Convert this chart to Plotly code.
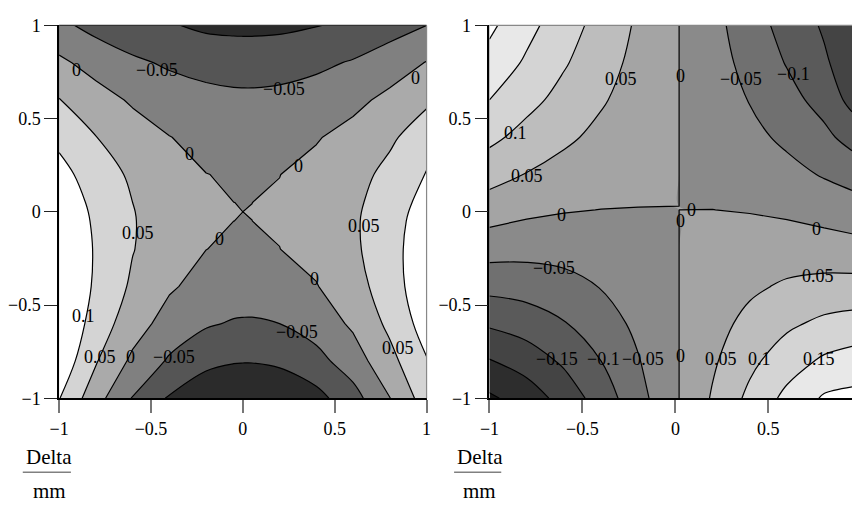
import plotly.graph_objects as go

W, H = 857, 512

# ---------------- data ----------------
left_x = [-1.0, -0.8, -0.6, -0.4, -0.2, -0.05, 0.0, 0.05, 0.2, 0.4, 0.6, 0.8, 1.0]
left_y = [-1.0, -0.8, -0.6, -0.4, -0.2, -0.05, 0.0, 0.05, 0.2, 0.4, 0.6, 0.8, 1.0]
left_z = [
    [0.102, 0.019, -0.053, -0.106, -0.138, -0.150, -0.151, -0.151, -0.144, -0.116, -0.069, -0.001, 0.075],
    [0.136, 0.054, -0.010, -0.056, -0.086, -0.096, -0.097, -0.097, -0.090, -0.066, -0.024, 0.035, 0.097],
    [0.151, 0.078, 0.022, -0.020, -0.045, -0.054, -0.055, -0.0551, -0.050, -0.028, 0.008, 0.061, 0.122],
    [0.155, 0.092, 0.042, 0.006, -0.017, -0.0246, -0.0255, -0.0256, -0.021, -0.002, 0.030, 0.076, 0.135],
    [0.151, 0.095, 0.052, 0.020, 0.0004, -0.0066, -0.0074, -0.0075, -0.0003, 0.013, 0.041, 0.081, 0.133],
    [0.142, 0.092, 0.053, 0.024, 0.0060, 0.00002, -0.0003, -0.00004, 0.0028, 0.018, 0.043, 0.079, 0.126],
    [0.138, 0.090, 0.052, 0.024, 0.0066, 0.0004, 0.0, 0.0003, 0.0034, 0.018, 0.042, 0.077, 0.122],
    [0.133, 0.087, 0.050, 0.023, 0.0061, 0.00004, -0.0003, -0.00005, 0.0029, 0.017, 0.040, 0.074, 0.117],
    [0.117, 0.075, 0.042, 0.017, 0.0005, -0.0029, -0.0035, -0.0036, -0.0004, 0.012, 0.033, 0.063, 0.103],
    [0.088, 0.051, 0.022, 0.001, -0.012, -0.0164, -0.017, -0.0171, -0.014, -0.003, 0.015, 0.042, 0.076],
    [0.052, 0.020, -0.006, -0.024, -0.035, -0.0395, -0.040, -0.0400, -0.037, -0.028, -0.012, 0.012, 0.042],
    [0.010, -0.019, -0.041, -0.057, -0.067, -0.0706, -0.071, -0.0710, -0.069, -0.060, -0.046, -0.025, 0.002],
    [-0.039, -0.065, -0.085, -0.096, -0.109, -0.1117, -0.112, -0.1120, -0.110, -0.102, -0.089, -0.070, -0.050],
]

right_x = [-1.0, -0.8, -0.6, -0.4, -0.2, 0.02, 0.2, 0.4, 0.6, 0.8, 0.95]
right_y = [-1.0, -0.8, -0.6, -0.4, -0.2, 0.01, 0.03, 0.2, 0.4, 0.6, 0.8, 1.0]
right_z = [
    [-0.258, -0.228, -0.181, -0.127, -0.068, 0.0, 0.055, 0.112, 0.163, 0.206, 0.213],
    [-0.203, -0.177, -0.142, -0.100, -0.053, 0.0, 0.043, 0.088, 0.127, 0.158, 0.170],
    [-0.143, -0.127, -0.103, -0.073, -0.039, 0.0, 0.032, 0.064, 0.091, 0.111, 0.119],
    [-0.085, -0.079, -0.067, -0.048, -0.026, 0.0, 0.021, 0.041, 0.057, 0.065, 0.067],
    [-0.030, -0.034, -0.032, -0.024, -0.013, 0.0, 0.010, 0.019, 0.024, 0.023, 0.018],
    [0.0239, 0.0104, 0.00275, -0.0005, -0.00088, 0.0, 0.00016, -0.0019, -0.0079, -0.0193, -0.028],
    [0.0288, 0.0145, 0.00589, 0.00166, 0.00026, 0.0, -0.00077, -0.00384, -0.0108, -0.0231, -0.032],
    [0.069, 0.048, 0.032, 0.019, 0.010, 0.0, -0.008, -0.020, -0.035, -0.054, -0.068],
    [0.112, 0.083, 0.059, 0.038, 0.020, 0.0, -0.017, -0.037, -0.060, -0.088, -0.118],
    [0.150, 0.115, 0.084, 0.055, 0.029, 0.0, -0.024, -0.052, -0.083, -0.118, -0.165],
    [0.183, 0.143, 0.105, 0.070, 0.036, 0.0, -0.030, -0.065, -0.103, -0.143, -0.178],
    [0.210, 0.165, 0.123, 0.082, 0.043, 0.0, -0.035, -0.076, -0.119, -0.156, -0.190],
]

left_levels = dict(start=-0.1, end=0.1, size=0.05)
right_levels = dict(start=-0.25, end=0.2, size=0.05)
left_grays = [43, 85, 128, 170, 212, 255]
right_grays = [22, 45, 68, 90, 112, 138, 164, 189, 212, 232, 255]

x_ticks_left = [-1, -0.5, 0, 0.5, 1]
x_ticks_right = [-1, -0.5, 0, 0.5]
y_ticks = [-1, -0.5, 0, 0.5, 1]

left_labels = [
    ("0", -0.904, 0.758), ("−0.05", -0.47, 0.763), ("−0.05", 0.225, 0.66),
    ("0", 0.94, 0.72), ("0", -0.29, 0.31), ("0", 0.305, 0.247),
    ("0.05", -0.572, -0.115), ("0", -0.128, -0.144), ("0.05", 0.658, -0.077),
    ("0", 0.39, -0.36), ("0.1", -0.866, -0.557), ("0.05", -0.775, -0.78),
    ("0", -0.61, -0.78), ("−0.05", -0.374, -0.78), ("−0.05", 0.294, -0.645),
    ("0.05", 0.845, -0.73),
]
right_labels = [
    ("0.05", -0.29, 0.71), ("0", 0.03, 0.73), ("−0.05", 0.355, 0.71),
    ("−0.1", 0.635, 0.74), ("0.1", -0.86, 0.42), ("0.05", -0.80, 0.19),
    ("0", -0.61, -0.016), ("0", 0.085, 0.01), ("0", 0.026, -0.05),
    ("0", 0.757, -0.093), ("−0.05", -0.655, -0.30), ("0.05", 0.767, -0.345),
    ("−0.15", -0.635, -0.79), ("−0.1", -0.386, -0.79), ("−0.05", -0.172, -0.79),
    ("0", 0.026, -0.775), ("0.05", 0.243, -0.79), ("0.1", 0.45, -0.79),
    ("0.15", 0.77, -0.79),
]

# ---------------- helpers ----------------
FONT = "Liberation Serif"


def fmt(v):
    return ("%g" % v).replace("-", "−")


def gray_scale(grays):
    n = len(grays)
    return [[i / (n - 1), "rgb(%d,%d,%d)" % (g, g, g)] for i, g in enumerate(grays)]


def px_x(p):
    return p / W


def px_y(p):
    return 1 - p / H


fig = go.Figure()


def add_panel(x, y, z, levels, grays, xa, ya):
    fig.add_trace(go.Contour(
        x=x, y=y, z=z,
        contours=dict(coloring="fill", showlines=False, showlabels=False, **levels),
        colorscale=gray_scale(grays), showscale=False,
        line=dict(width=0, smoothing=1.0),
        hoverinfo="skip", xaxis=xa, yaxis=ya,
    ))
    s, e, d = levels["start"], levels["end"], levels["size"]
    for a, b in [(s, -d), (d, e)]:
        fig.add_trace(go.Contour(
            x=x, y=y, z=z,
            contours=dict(coloring="none", showlabels=False, start=a, end=b, size=d),
            showscale=False, line=dict(color="black", width=1.2, smoothing=1.0),
            hoverinfo="skip", xaxis=xa, yaxis=ya,
        ))
    fig.add_trace(go.Contour(
        x=x, y=y, z=z,
        contours=dict(coloring="none", showlabels=False, start=0, end=0, size=d),
        showscale=False, line=dict(color="black", width=1.2, smoothing=0),
        hoverinfo="skip", xaxis=xa, yaxis=ya,
    ))


add_panel(left_x, left_y, left_z, left_levels, left_grays, "x", "y")
add_panel(right_x, right_y, right_z, right_levels, right_grays, "x2", "y2")

y_dom = [px_y(404), px_y(16)]
tickfont = dict(family=FONT, size=18, color="black")


def xaxis(dom, rng, ticks, anchor):
    return dict(domain=dom, range=rng, anchor=anchor, showgrid=False, zeroline=False,
                showline=True, linecolor="black", linewidth=1.5,
                ticks="outside", ticklen=13, tickwidth=1.5, tickcolor="#777",
                tickvals=ticks, ticktext=[fmt(t) for t in ticks], tickfont=tickfont)


def yaxis(anchor):
    return dict(domain=y_dom, range=[-1, 1], anchor=anchor, showgrid=False, zeroline=False,
                showline=True, linecolor="black", linewidth=1.5,
                ticks="outside", ticklen=13, tickwidth=1.2, tickcolor="#222",
                tickvals=y_ticks, ticktext=[fmt(t) for t in y_ticks], tickfont=tickfont)


annotations = []
for labels, xr, yr in [(left_labels, "x", "y"), (right_labels, "x2", "y2")]:
    for txt, x, y in labels:
        annotations.append(dict(text=txt, x=x, y=y, xref=xr, yref=yr, showarrow=False,
                                font=dict(family=FONT, size=18, color="black"),
                                xanchor="center", yanchor="middle"))

shapes = []
for cx, x0, x1 in [(40, 13, 62), (478, 452, 500)]:
    annotations.append(dict(text="Delta", x=px_x(cx), y=px_y(465), xref="paper", yref="paper",
                            showarrow=False, font=dict(family=FONT, size=21, color="black"),
                            xanchor="center", yanchor="middle"))
    annotations.append(dict(text="mm", x=px_x(cx), y=px_y(501), xref="paper", yref="paper",
                            showarrow=False, font=dict(family=FONT, size=21, color="black"),
                            xanchor="center", yanchor="middle"))
    shapes.append(dict(type="line", xref="paper", yref="paper",
                       x0=px_x(x0), x1=px_x(x1), y0=px_y(481), y1=px_y(481),
                       line=dict(color="#808080", width=1.5)))

shapes.append(dict(type="line", xref="x domain", yref="y domain", x0=0, x1=1, y0=1, y1=1,
                   line=dict(color="#333", width=1.2)))
shapes.append(dict(type="line", xref="x domain", yref="y domain", x0=1, x1=1, y0=0, y1=1,
                   line=dict(color="#888", width=1.2)))
shapes.append(dict(type="line", xref="x2 domain", yref="y2 domain", x0=0, x1=1, y0=1, y1=1,
                   line=dict(color="#888", width=1.2)))

fig.update_layout(
    width=W, height=H, margin=dict(l=0, r=0, t=0, b=0),
    paper_bgcolor="white", plot_bgcolor="white", showlegend=False,
    xaxis=xaxis([px_x(50), px_x(424)], [-1, 1], x_ticks_left, "y"),
    yaxis=yaxis("x"),
    xaxis2=xaxis([px_x(488), 1.0], [-1, 0.95], x_ticks_right, "y2"),
    yaxis2=yaxis("x2"),
    annotations=annotations, shapes=shapes,
    font=dict(family=FONT),
)

fig.write_html("out.html")
